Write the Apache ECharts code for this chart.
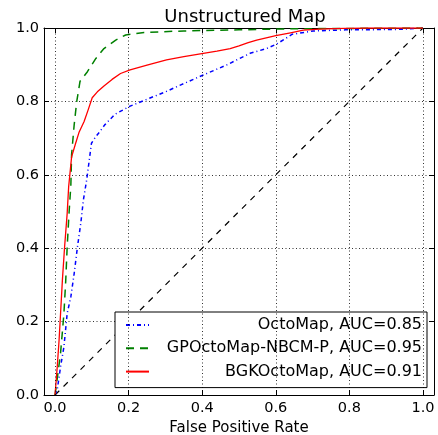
<!DOCTYPE html>
<html>
<head>
<meta charset="utf-8">
<script src="https://cdn.jsdelivr.net/npm/echarts@6/dist/echarts.min.js"></script>
<style>html,body{margin:0;padding:0;background:#fff}#c{width:438px;height:435px}</style>
</head>
<body>
<div id="c"></div>
<script>
const titleText = 'Unstructured Map';
const xAxisName = 'False Positive Rate';
const seriesNames = ['OctoMap, AUC=0.85', 'GPOctoMap-NBCM-P, AUC=0.95', 'BGKOctoMap, AUC=0.91'];
const xTicks = [0, 0.2, 0.4, 0.6, 0.8, 1.0];
const yTicks = [0, 0.2, 0.4, 0.6, 0.8, 1.0];

const octoFpr = [0, 0.006, 0.015, 0.024, 0.033, 0.043, 0.052, 0.061, 0.07, 0.077, 0.086, 0.093, 0.099, 0.11, 0.122, 0.135, 0.163, 0.204, 0.26, 0.30, 0.342, 0.403, 0.466, 0.53, 0.575, 0.602, 0.645, 0.702, 0.79, 0.93, 1.0];
const octoTpr = [0, 0.014, 0.077, 0.13, 0.222, 0.268, 0.331, 0.404, 0.468, 0.531, 0.586, 0.64, 0.686, 0.703, 0.718, 0.736, 0.765, 0.787, 0.81, 0.826, 0.845, 0.872, 0.899, 0.931, 0.944, 0.956, 0.983, 0.992, 0.995, 0.996, 1.0];

const gpFpr = [0, 0.008, 0.015, 0.024, 0.029, 0.033, 0.038, 0.043, 0.045, 0.052, 0.059, 0.068, 0.088, 0.111, 0.133, 0.165, 0.192, 0.242, 0.35, 0.5, 0.65, 1.0];
const gpTpr = [0, 0.06, 0.114, 0.22, 0.31, 0.404, 0.495, 0.572, 0.655, 0.736, 0.80, 0.855, 0.881, 0.917, 0.944, 0.967, 0.981, 0.988, 0.992, 0.995, 0.998, 1.0];

const bgkFpr = [0, 0.006, 0.011, 0.015, 0.02, 0.026, 0.033, 0.037, 0.045, 0.056, 0.065, 0.079, 0.090, 0.101, 0.115, 0.133, 0.155, 0.178, 0.204, 0.25, 0.303, 0.35, 0.403, 0.44, 0.476, 0.50, 0.525, 0.548, 0.60, 0.64, 0.675, 0.72, 0.78, 0.85, 1.0];
const bgkTpr = [0, 0.077, 0.15, 0.222, 0.313, 0.404, 0.495, 0.567, 0.649, 0.686, 0.715, 0.745, 0.777, 0.810, 0.826, 0.842, 0.86, 0.876, 0.886, 0.899, 0.913, 0.922, 0.931, 0.937, 0.944, 0.951, 0.960, 0.967, 0.979, 0.987, 0.994, 0.997, 0.999, 1.0, 1.0];

const chanceFpr = [0, 1];
const chanceTpr = [0, 1];

const zip = (a, b) => a.map((v, i) => [v, b[i]]);
const FONT = 'DejaVu Sans';
const fmt = v => v.toFixed(1);

const chart = echarts.init(document.getElementById('c'), null, {renderer: 'canvas'});
const frameAxisX = (pos, labels) => ({
  type: 'value', min: -0.03, max: 1.03, position: pos,
  axisLine: {show: true, onZero: false, lineStyle: {color: '#000', width: 1}},
  axisTick: {show: true, inside: true, length: 5, customValues: xTicks, lineStyle: {color: '#000', width: 1}},
  axisLabel: labels ? {show: true, customValues: xTicks, formatter: fmt, color: '#000', fontSize: 14.5, fontFamily: FONT, margin: 6} : {show: false},
  splitLine: {show: false}
});
const frameAxisY = (pos, labels) => ({
  type: 'value', min: 0, max: 1, interval: 0.2, position: pos,
  axisLine: {show: true, onZero: false, lineStyle: {color: '#000', width: 1}},
  axisTick: {show: true, inside: true, length: 5, lineStyle: {color: '#000', width: 1}},
  axisLabel: labels ? {show: true, formatter: fmt, color: '#000', fontSize: 14.5, fontFamily: FONT, margin: 5} : {show: false},
  splitLine: labels ? {show: true, lineStyle: {color: '#000', width: 1, type: [1, 2.5], opacity: 0.8}} : {show: false}
});

const xBottom = frameAxisX('bottom', true);
xBottom.name = xAxisName;
xBottom.nameLocation = 'middle';
xBottom.nameGap = 25;
xBottom.nameTextStyle = {color: '#000', fontSize: 15, fontFamily: FONT};

chart.setOption({
  animation: false,
  backgroundColor: '#fff',
  title: {
    text: titleText, left: 240, top: 3, textAlign: 'center',
    textStyle: {color: '#000', fontSize: 18, fontWeight: 'normal', fontFamily: FONT}
  },
  grid: {left: 44, top: 28, right: 4, bottom: 40, containLabel: false, outerBoundsMode: 'none'},
  xAxis: [xBottom, frameAxisX('top', false)],
  yAxis: [frameAxisY('left', true), frameAxisY('right', false)],
  legend: {
    data: seriesNames,
    orient: 'vertical', left: 115, top: 312,
    itemWidth: 23, itemHeight: 16, itemGap: 7.3,
    padding: [5, 5, 8, 10],
    borderColor: '#000', borderWidth: 1, backgroundColor: '#fff', borderRadius: 0,
    itemStyle: {opacity: 0, color: 'rgba(0,0,0,0)', borderColor: 'rgba(0,0,0,0)', borderWidth: 0},
    formatter: name => '{t|' + name + '}',
    textStyle: {rich: {t: {width: 268, align: 'right', fontSize: 16, fontFamily: FONT, color: '#000', lineHeight: 16}}}
  },
  series: [
    {
      name: 'grid-x', type: 'line', data: [], silent: true,
      markLine: {
        silent: true, symbol: ['none', 'none'], label: {show: false},
        lineStyle: {color: '#000', width: 1, type: [1, 2.5], opacity: 0.8},
        data: xTicks.map(v => ({xAxis: v}))
      }
    },
    {
      name: 'chance', type: 'line', data: zip(chanceFpr, chanceTpr), symbol: 'none', silent: true,
      lineStyle: {color: '#000', width: 1.2, type: [6, 6]}
    },
    {
      name: seriesNames[0], type: 'line', data: zip(octoFpr, octoTpr), symbol: 'none',
      lineStyle: {color: '#0000ff', width: 1.5, type: [4, 3, 1, 3]}, itemStyle: {color: '#0000ff'}
    },
    {
      name: seriesNames[1], type: 'line', data: zip(gpFpr, gpTpr), symbol: 'none',
      lineStyle: {color: '#008000', width: 1.5, type: [8, 6]}, itemStyle: {color: '#008000'}
    },
    {
      name: seriesNames[2], type: 'line', data: zip(bgkFpr, bgkTpr), symbol: 'none',
      lineStyle: {color: '#ff0000', width: 1.3}, itemStyle: {color: '#ff0000'}
    }
  ]
});
</script>
</body>
</html>
